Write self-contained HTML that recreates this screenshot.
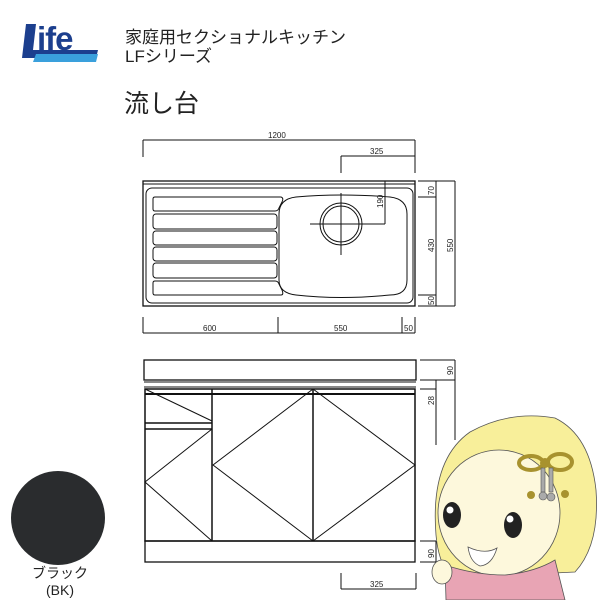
<!DOCTYPE html>
<html><head><meta charset="utf-8"><style>
body{margin:0;width:600px;height:600px;background:#fff;overflow:hidden;position:relative;font-family:"Liberation Sans","Noto Sans CJK JP",sans-serif}
.t{position:absolute;color:#222;white-space:nowrap}
</style></head><body>
<svg width="600" height="600" style="position:absolute;left:0;top:0" font-family="Liberation Sans, sans-serif">
<polygon points="26,24 36,24 33,50 40,50 38,58 22,58" fill="#1c3f8e"/>
<polygon points="36,54 98,54 96,62 33,62" fill="#3aa0dc"/>
<polygon points="38,50 98,50 97,54 37,54" fill="#1c3f8e"/>
<text x="37" y="50" font-size="33" font-weight="bold" fill="#1c3f8e" letter-spacing="-1">ife</text>
<g stroke="#111" fill="none" stroke-width="1">
<line x1="143" y1="140" x2="415" y2="140"/><line x1="143" y1="140" x2="143" y2="157"/><line x1="415" y1="140" x2="415" y2="157"/>
<line x1="341" y1="156" x2="415" y2="156"/><line x1="341" y1="156" x2="341" y2="173"/><line x1="415" y1="156" x2="415" y2="173"/>
<rect x="143" y="181" width="272" height="125" stroke-width="1.3"/>
<line x1="143" y1="184" x2="415" y2="184"/>
<rect x="146" y="188" width="267" height="115" rx="6"/>
<path d="M155,197 H281 Q284,198 282,202 L279,208 Q278,211 275,211 H155 Q153,211 153,209 V199 Q153,197 155,197Z"/>
<rect x="153" y="214" width="124" height="15" rx="3"/>
<rect x="153" y="231" width="124" height="14" rx="3"/>
<rect x="153" y="247" width="124" height="14" rx="3"/>
<rect x="153" y="263" width="124" height="15" rx="3"/>
<path d="M155,281 H275 Q278,281 279,284 L282,290 Q284,295 281,295 H155 Q153,295 153,293 V283 Q153,281 155,281Z"/>
<path d="M296,197 Q340,193 390,197 Q407,199 407,214 V280 Q407,295 390,295 Q340,300 296,295 Q279,293 279,280 V214 Q279,199 296,197Z"/>
<circle cx="341" cy="224" r="21"/><circle cx="341" cy="224" r="18"/>
<line x1="310" y1="224" x2="385" y2="224"/><line x1="341" y1="193" x2="341" y2="255"/>
<line x1="385" y1="181" x2="385" y2="224"/>
<line x1="418" y1="181" x2="455" y2="181"/><line x1="418" y1="197" x2="436" y2="197"/><line x1="418" y1="295" x2="436" y2="295"/><line x1="418" y1="306" x2="455" y2="306"/>
<line x1="436" y1="181" x2="436" y2="306"/><line x1="455" y1="181" x2="455" y2="306"/>
<line x1="143" y1="333" x2="415" y2="333"/>
<line x1="143" y1="317" x2="143" y2="333"/><line x1="278" y1="317" x2="278" y2="333"/><line x1="402" y1="317" x2="402" y2="333"/><line x1="415" y1="317" x2="415" y2="333"/>
<rect x="144" y="360" width="272" height="20" stroke-width="1.3"/>
<line x1="144" y1="382" x2="416" y2="382"/><line x1="144" y1="387" x2="416" y2="387"/>
<rect x="145" y="389" width="270" height="152" stroke-width="1.5"/>
<line x1="145" y1="394" x2="415" y2="394" stroke-width="2"/>
<line x1="212" y1="389" x2="212" y2="541" stroke-width="1.5"/>
<line x1="313" y1="389" x2="313" y2="541" stroke-width="1.5"/>
<line x1="145" y1="423" x2="212" y2="423" stroke-width="1.5"/><line x1="145" y1="429" x2="212" y2="429" stroke-width="1.5"/>
<line x1="145" y1="389" x2="212" y2="421"/>
<polyline points="212,429 145,482 212,541"/>
<polyline points="313,389 213,465 313,541"/>
<polyline points="313,389 415,465 313,541"/>
<rect x="145" y="541" width="270" height="21" stroke-width="1.3"/>
<line x1="420" y1="360" x2="455" y2="360"/><line x1="420" y1="380" x2="455" y2="380"/><line x1="455" y1="360" x2="455" y2="380"/>
<line x1="420" y1="389" x2="436" y2="389"/><line x1="436" y1="380" x2="436" y2="445"/><line x1="455" y1="380" x2="455" y2="440"/>
<line x1="420" y1="541" x2="436" y2="541"/><line x1="420" y1="562" x2="436" y2="562"/><line x1="436" y1="541" x2="436" y2="562"/>
<line x1="341" y1="589" x2="416" y2="589"/><line x1="341" y1="573" x2="341" y2="589"/><line x1="416" y1="573" x2="416" y2="589"/>
</g>
<g font-size="8" fill="#222">
<text x="268" y="138">1200</text><text x="370" y="154">325</text>
<text x="203" y="331">600</text><text x="334" y="331">550</text><text x="404" y="331">50</text>
<text x="370" y="587">325</text>
<g transform="rotate(-90)"><text x="-195" y="434">70</text><text x="-252" y="434">430</text><text x="-305" y="434">50</text><text x="-252" y="453">550</text><text x="-208" y="383">190</text>
<text x="-375" y="453">90</text><text x="-405" y="434">28</text><text x="-558" y="434">90</text></g>
</g>
<circle cx="58" cy="518" r="47" fill="#2a2c2e"/>
<path d="M436,535 Q430,460 470,432 Q510,410 555,418 Q590,435 596,490 Q600,545 575,572 L450,578 Q438,560 436,535Z" fill="#f8ef9a" stroke="#555" stroke-width="0.8"/>
<ellipse cx="499" cy="513" rx="61" ry="63" fill="#fdf8dc" stroke="#555" stroke-width="0.8"/>
<path d="M445,565 Q475,575 505,575 Q535,572 555,560 L565,600 L446,600Z" fill="#e8a4b4" stroke="#555" stroke-width="0.8"/>
<ellipse cx="442" cy="572" rx="10" ry="12" fill="#fdf8dc" stroke="#555" stroke-width="0.8"/>
<ellipse cx="452" cy="515" rx="9" ry="13" fill="#222"/><ellipse cx="513" cy="525" rx="9" ry="13" fill="#222"/>
<circle cx="450" cy="510" r="3.5" fill="#fff"/><circle cx="510" cy="519" r="3.5" fill="#fff"/>
<path d="M468,547 Q485,555 497,548 Q492,565 480,566 Q470,562 468,547Z" fill="#fff" stroke="#555" stroke-width="0.8"/>
<g fill="none" stroke="#a8922e" stroke-width="4"><ellipse cx="531" cy="463" rx="12" ry="7"/><ellipse cx="560" cy="462" rx="12" ry="8"/></g>
<circle cx="545" cy="463" r="5" fill="#a8922e"/>
<g fill="#aaa" stroke="#555" stroke-width="0.6"><rect x="541" y="468" width="4" height="24"/><rect x="549" y="468" width="4" height="24"/><circle cx="543" cy="496" r="4"/><circle cx="551" cy="497" r="4"/></g>
<g fill="#a8922e"><circle cx="531" cy="495" r="4"/><circle cx="565" cy="494" r="4"/></g>
</svg>
<div class="t" style="left:125px;top:28px;font-size:17px;line-height:19px">家庭用セクショナルキッチン<br>LFシリーズ</div>
<div class="t" style="left:124px;top:84px;font-size:25px">流し台</div>
<div class="t" style="left:32px;top:565px;font-size:14px;line-height:17px;text-align:center">ブラック<br>(BK)</div>
</body></html>
